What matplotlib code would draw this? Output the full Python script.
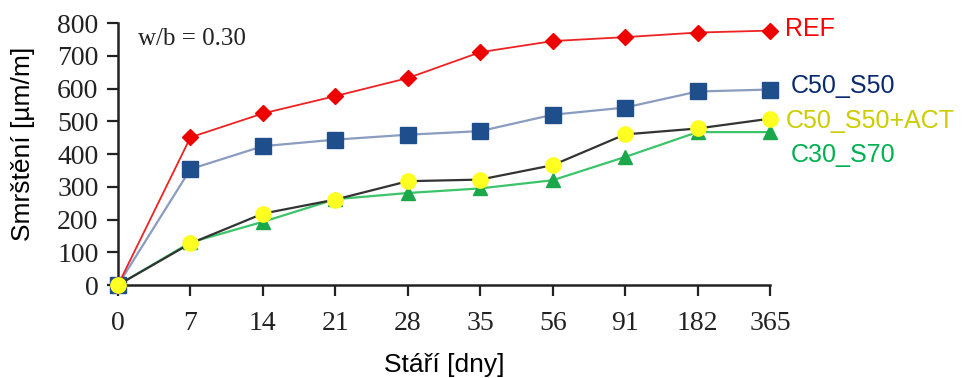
import matplotlib
matplotlib.use("Agg")
import matplotlib.pyplot as plt

# stari vzorku [dny] - kategorie na ose x
days = ["0", "7", "14", "21", "28", "35", "56", "91", "182", "365"]

ref = [0, 451, 524, 577, 632, 711, 745, 757, 771, 777]
c50_s50 = [0, 354, 424, 444, 459, 470, 520, 542, 591, 597]
c50_s50_act = [0, 127, 218, 261, 317, 322, 366, 460, 478, 508]
c30_s70 = [0, 130, 193, 262, 281, 295, 320, 391, 467, 467]

series_names = ["REF", "C50_S50", "C50_S50+ACT", "C30_S70"]

x = list(range(len(days)))

fig = plt.figure(figsize=(9.68, 3.78), dpi=100)
ax = fig.add_axes([0.1219, 0.246, 0.6736, 0.693])

ax.plot(x, ref, color="#ee2222", lw=1.3, marker="D", ms=8,
        mfc="#ee0000", mec="#ee0000", clip_on=False, zorder=5)
ax.plot(x, c50_s50, color="#8a9cc0", lw=1.6, marker="s", ms=11,
        mfc="#1f4e8c", mec="#1f4e8c", clip_on=False, zorder=4)
ax.plot(x, c30_s70, color="#3cc46a", lw=1.6, marker="^", ms=10,
        mfc="#1aa84a", mec="#1aa84a", clip_on=False, zorder=3)
ax.plot(x, c50_s50_act, color="#333333", lw=1.6, marker="o", ms=11,
        mfc="#ffff22", mec="#ffff22", clip_on=False, zorder=6)

ax.set_xlim(0, len(days) - 1)
ax.set_ylim(0, 800)
ax.set_xticks(x)
ax.set_xticklabels(days)
ax.set_yticks(range(0, 801, 100))

for side in ["top", "right"]:
    ax.spines[side].set_visible(False)
for side in ["left", "bottom"]:
    ax.spines[side].set_linewidth(1.8)
    ax.spines[side].set_color("#222222")

ax.tick_params(axis="both", direction="out", length=8, width=1.6, color="#222222")
ax.tick_params(axis="x", pad=11)
ax.tick_params(axis="y", pad=6)
for lab in ax.get_xticklabels() + ax.get_yticklabels():
    lab.set_fontfamily("Liberation Serif")
    lab.set_fontsize(20)
    lab.set_color("#222222")

ax.set_ylabel("Smrštění [µm/m]", fontfamily="Liberation Sans", fontsize=19)
ax.yaxis.set_label_coords(-0.128, 0.54)
ax.set_xlabel("Stáří [dny]", fontfamily="Liberation Sans", fontsize=19, labelpad=12)

ax.text(0.03, 0.94, "w/b = 0.30", transform=ax.transAxes, fontfamily="Liberation Serif",
        fontsize=18, va="center", ha="left", color="#222222")

# popisky serii vpravo
label_pos = [(785, 29, "#ff0000"), (791, 86, "#0a2a6e"),
             (786, 121, "#cccc00"), (791, 155, "#00b050")]
for name, (px, py, col) in zip(series_names, label_pos):
    fig.text(px / 968, 1 - py / 378, name, fontfamily="Liberation Sans", fontsize=18,
             color=col, va="center", ha="left")

fig.savefig("out.png", dpi=100)
